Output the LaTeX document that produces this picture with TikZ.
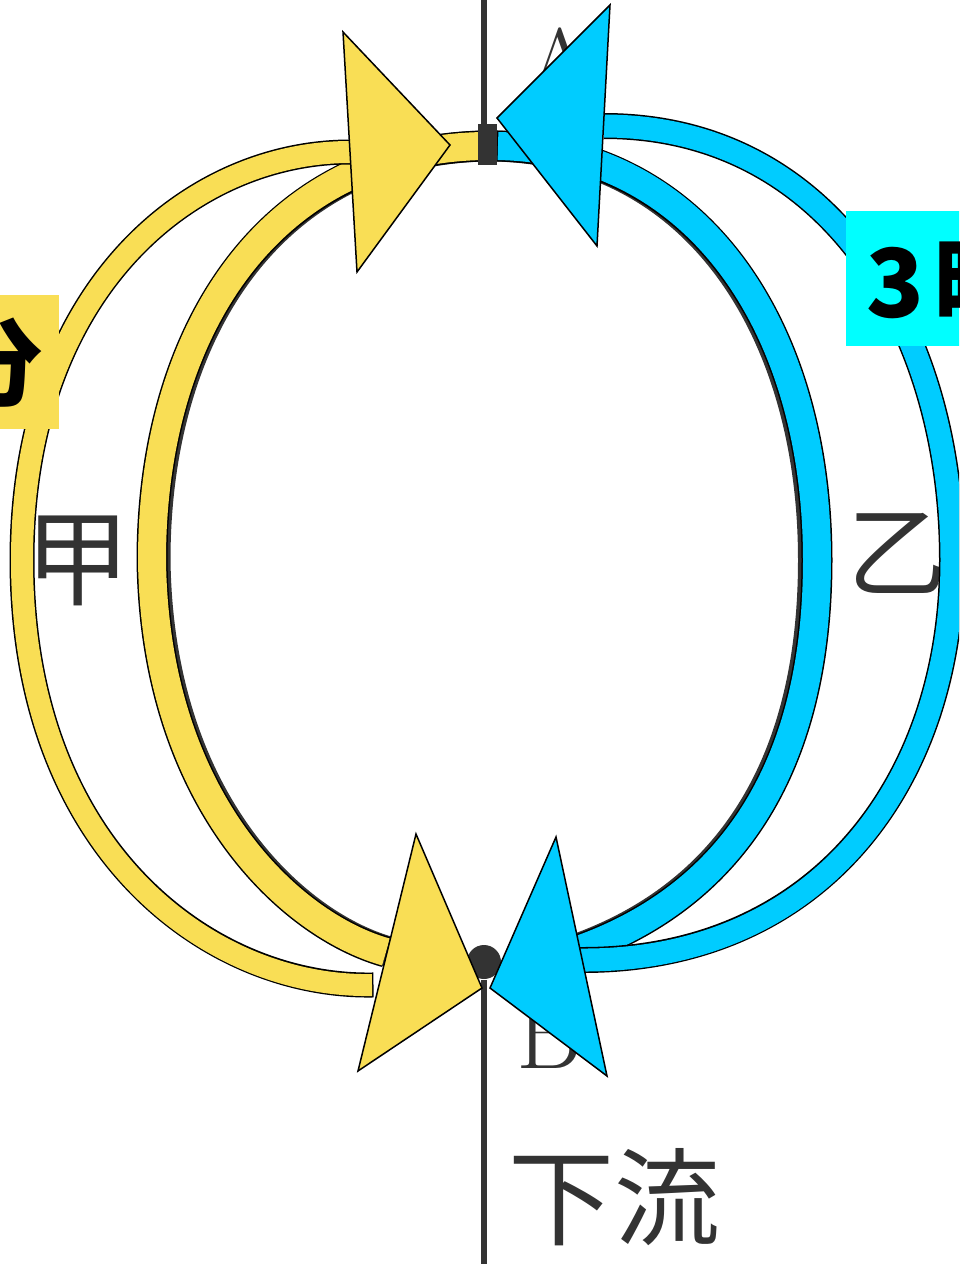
\documentclass[tikz,border=0pt]{standalone}
\usepackage{fontspec}
\newfontfamily\cjk{Noto Sans CJK JP}
\definecolor{ylw}{HTML}{F9DE55}
\definecolor{blu}{HTML}{00CCFF}
\definecolor{cyn}{HTML}{00FFFF}
\definecolor{ink}{HTML}{333333}
\tikzset{
  edge/.style={draw=black, line cap=butt, line width=#1, shorten <=-1.5pt},
  body/.style={line cap=butt, line width=#1},
  rim/.style={draw=ink, line cap=butt, line width=31pt},
  headstyle/.style={draw=black, line width=1.5pt, line join=miter},
  scan/.style={text=ink, inner sep=0pt},
  tag/.style={text=black, inner sep=0pt, font=\cjk\bfseries\fontsize{95}{95}\selectfont}
}
\newcommand\pYout{(372,985) .. controls (210,988) and (22,850) .. (22,560) .. controls (22,290) and (190,152) .. (350,152)}
\newcommand\pYin{(483,146) .. controls (270,150) and (152,330) .. (152,560) .. controls (155,800) and (290,925) .. (386,952)}
\newcommand\pBout{(580,960) .. controls (820,962) and (952,780) .. (952,560) .. controls (952,330) and (830,126) .. (604,126)}
\newcommand\pBin{(498,146) .. controls (700,150) and (817,330) .. (817,560) .. controls (817,780) and (720,900) .. (578,950)}
\begin{document}
\begin{tikzpicture}[x=1pt,y=-1pt]
\useasboundingbox (0,0) rectangle (959,1264);
\clip (0,0) rectangle (959,1264);
\fill[white] (0,0) rectangle (959,1264);
% scanned drawing
\node[scan, font=\cjk\fontsize{105}{105}\selectfont] (jia) at (78,561) {甲};
\node[scan, font=\cjk\fontsize{100}{100}\selectfont] (yi) at (897,553) {乙};
\node[scan, font=\fontsize{100}{100}\selectfont, anchor=base] (A) at (560,98) {A};
\node[scan, font=\fontsize{100}{100}\selectfont, anchor=base west] (B) at (516,1068) {B};
\node[scan, font=\cjk\fontsize{106}{106}\selectfont] (down) at (614,1197) {下流};
\coordinate (top0) at (484,0);
\coordinate (top1) at (484,128);
\coordinate (bot0) at (484,980);
\coordinate (bot1) at (484,1264);
\draw[ink, line width=6pt] (top0) -- (top1);
\draw[ink, line width=6pt] (bot0) -- (bot1);
\fill[ink] (484,962) circle (17);
% scanned river edge, seen beside the inner arrows
\draw[rim, xshift=3pt] \pYin;
\draw[rim, xshift=-3.5pt] \pBin;
% inner shafts
\draw[edge=31pt] \pYin; \draw[ylw, body=28pt] \pYin;
\draw[edge=31pt] \pBin; \draw[blu, body=28pt] \pBin;
% outer shafts
\draw[edge=25pt] \pYout; \draw[ylw, body=22pt] \pYout;
\draw[edge=26pt] \pBout; \draw[blu, body=23pt] \pBout;
\fill[ink] (478,124) rectangle (497,165);
% heads
\draw[headstyle, fill=ylw] (343,32) -- (450,145) -- (357,272) -- cycle;
\draw[headstyle, fill=blu] (610,5) -- (497,118) -- (597,246) -- cycle;
\draw[headstyle, fill=ylw] (416,834) -- (482,988) -- (358,1071) -- cycle;
\draw[headstyle, fill=blu] (556,837) -- (490,988) -- (607,1076) -- cycle;
% labels
\fill[ylw] (-80,295) rectangle (59,429);
\node[tag] (fen) at (-5,363) {分};
\fill[cyn] (846,211) rectangle (1000,346);
\node[tag, anchor=base west] (three) at (866,317) {3\kern10pt 時};
\end{tikzpicture}
\end{document}
